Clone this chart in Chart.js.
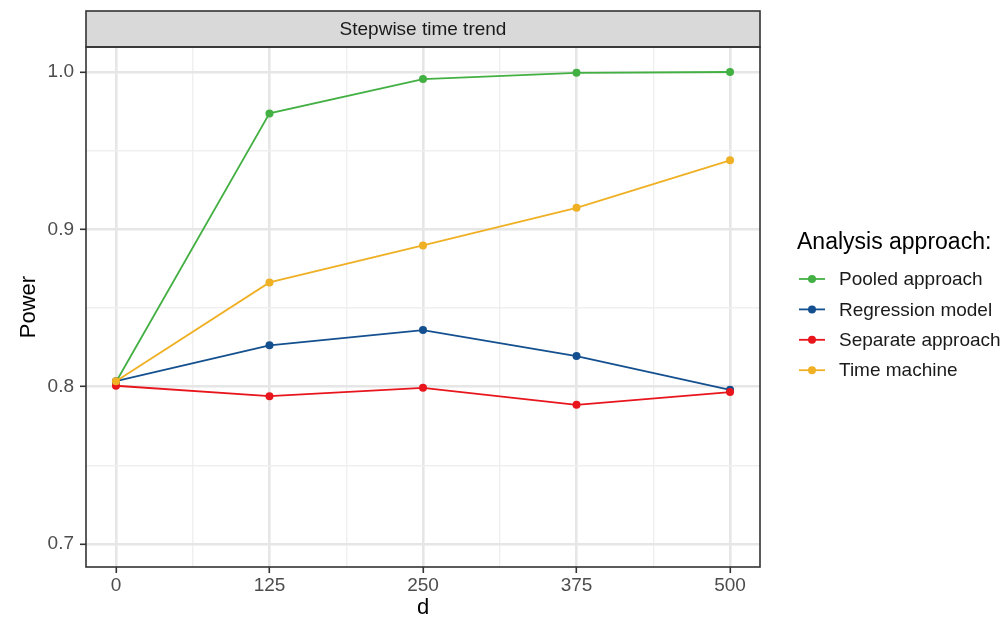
<!DOCTYPE html>
<html>
<head>
<meta charset="utf-8">
<style>
  html, body { margin: 0; padding: 0; background: #fff; }
  #wrap { width: 1006px; height: 621px; }
</style>
</head>
<body>
<div id="wrap"><canvas id="powerChart" width="1006" height="621"></canvas></div>
<script src="https://cdn.jsdelivr.net/npm/chart.js@4.4.1/dist/chart.umd.min.js"></script>
<script>
    // x values (d) and power per approach
    const dValues = [0, 125, 250, 375, 500]
    const pooled = [0.803, 0.9737, 0.9955, 0.9995, 1.0]
    const regression = [0.8035, 0.8263, 0.836, 0.8195, 0.798]
    const separate = [0.8006, 0.794, 0.7993, 0.7885, 0.7966]
    const timeMachine = [0.8035, 0.8663, 0.8898, 0.9137, 0.9439]

    const seriesNames = ['Pooled approach', 'Regression model', 'Separate approach', 'Time machine']
    const seriesColors = ['#43b043', '#14508f', '#e8151c', '#efb024']

    const xTicks = [0, 62.5, 125, 187.5, 250, 312.5, 375, 437.5, 500]
    const xTickLabels = ['0', '', '125', '', '250', '', '375', '', '500']
    const yTicks = [0.7, 0.75, 0.8, 0.85, 0.9, 0.95, 1.0]
    const yTickLabels = ['0.7', '', '0.8', '', '0.9', '', '1.0']

    const stripTitle = 'Stepwise time trend'
    const legendTitle = 'Analysis approach:'

    const textFont = "'Liberation Sans', Arial, sans-serif"
    const tickFont = { family: textFont, size: 19 }

    function toPoints(values) {
        return values.map((v, i) => ({ x: dValues[i], y: v }))
    }

    const allSeries = [pooled, regression, separate, timeMachine]
    // later series sit on top, like ggplot
    const datasets = allSeries.map((vals, i) => ({
        label: seriesNames[i],
        data: toPoints(vals),
        borderColor: seriesColors[i],
        backgroundColor: seriesColors[i],
        borderWidth: 1.8,
        pointRadius: 4,
        pointBorderWidth: 0,
        pointHoverRadius: 4,
        order: allSeries.length - 1 - i
    }))

    function isMajor(list, labels, value) {
        const idx = list.findIndex(v => Math.abs(v - value) < 1e-9)
        return idx >= 0 && labels[idx] !== ''
    }

    // grey strip on top, panel border and the legend on the right
    const decorations = {
        id: 'decorations',
        afterDraw(chart) {
            const { ctx, chartArea } = chart
            const { left, right, top, bottom } = chartArea
            ctx.save()
            // strip
            ctx.fillStyle = '#d9d9d9'
            ctx.fillRect(left, 11, right - left, top - 11)
            ctx.strokeStyle = '#333333'
            ctx.lineWidth = 1.6
            ctx.strokeRect(left, 11, right - left, top - 11)
            ctx.fillStyle = '#1a1a1a'
            ctx.font = '19px ' + textFont
            ctx.textAlign = 'center'
            ctx.textBaseline = 'middle'
            ctx.fillText(stripTitle, (left + right) / 2, (11 + top) / 2 + 1)
            // panel border
            ctx.strokeRect(left, top, right - left, bottom - top)

            // legend
            ctx.textAlign = 'left'
            ctx.fillStyle = '#000'
            ctx.font = '23px ' + textFont
            ctx.fillText(legendTitle, 797, 243)
            ctx.font = '19px ' + textFont
            chart.data.datasets.forEach((ds, i) => {
                const y = 279 + i * 30.4
                ctx.strokeStyle = ds.borderColor
                ctx.lineWidth = 1.8
                ctx.beginPath()
                ctx.moveTo(799, y)
                ctx.lineTo(825, y)
                ctx.stroke()
                ctx.fillStyle = ds.borderColor
                ctx.beginPath()
                ctx.arc(812, y, 4, 0, Math.PI * 2)
                ctx.fill()
                ctx.fillStyle = '#1a1a1a'
                ctx.fillText(ds.label, 839, y + 1)
            })
            ctx.restore()
        }
    }

    const ctx = document.getElementById('powerChart')
    const powerChart = new Chart(ctx, {
        type: 'line',
        data: { datasets: datasets },
        plugins: [decorations],
        options: {
            responsive: false,
            animation: false,
            layout: { padding: { left: 0, top: 47, right: 246, bottom: 0 } },
            plugins: {
                legend: { display: false },
                tooltip: { enabled: false }
            },
            scales: {
                x: {
                    type: 'linear',
                    min: -24.4,
                    max: 524.4,
                    afterBuildTicks: scale => { scale.ticks = xTicks.map(v => ({ value: v })) },
                    afterFit: scale => { scale.height = 54 },
                    border: { display: false },
                    grid: {
                        color: c => isMajor(xTicks, xTickLabels, c.tick.value) ? '#e6e6e6' : '#efefef',
                        lineWidth: c => isMajor(xTicks, xTickLabels, c.tick.value) ? 2.6 : 1.4,
                        tickColor: c => isMajor(xTicks, xTickLabels, c.tick.value) ? '#333333' : 'rgba(0,0,0,0)',
                        tickWidth: 1.6,
                        tickLength: 6
                    },
                    ticks: {
                        autoSkip: false,
                        maxRotation: 0,
                        padding: 1,
                        color: '#4d4d4d',
                        font: tickFont,
                        callback: (value, index) => xTickLabels[index]
                    },
                    title: {
                        display: true,
                        text: 'd',
                        color: '#000',
                        font: { family: textFont, size: 22 },
                        padding: { top: 0, bottom: 0 }
                    }
                },
                y: {
                    type: 'linear',
                    min: 0.6854,
                    max: 1.0159,
                    afterBuildTicks: scale => { scale.ticks = yTicks.map(v => ({ value: v })) },
                    afterFit: scale => { scale.width = 86 },
                    border: { display: false },
                    grid: {
                        color: c => isMajor(yTicks, yTickLabels, c.tick.value) ? '#e6e6e6' : '#efefef',
                        lineWidth: c => isMajor(yTicks, yTickLabels, c.tick.value) ? 2.6 : 1.4,
                        tickColor: c => isMajor(yTicks, yTickLabels, c.tick.value) ? '#333333' : 'rgba(0,0,0,0)',
                        tickWidth: 1.6,
                        tickLength: 6
                    },
                    ticks: {
                        autoSkip: false,
                        padding: 6,
                        color: '#4d4d4d',
                        font: tickFont,
                        callback: (value, index) => yTickLabels[index]
                    },
                    title: {
                        display: true,
                        text: 'Power',
                        color: '#000',
                        font: { family: textFont, size: 22 },
                        padding: { top: 16, bottom: 0 }
                    }
                }
            }
        }
    })
</script>
</body>
</html>
